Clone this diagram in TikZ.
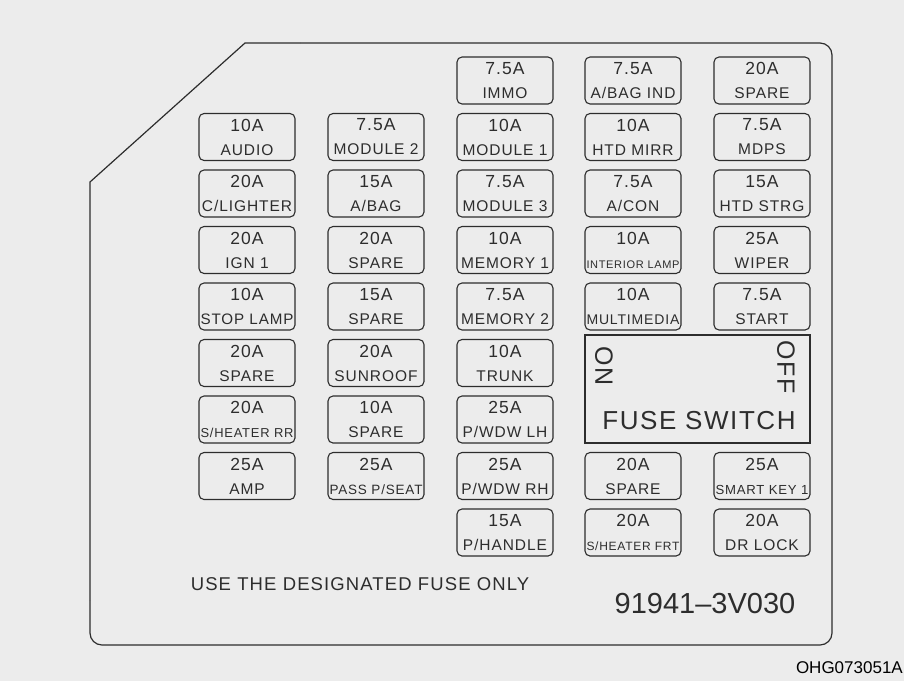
\documentclass[tikz,border=0pt]{standalone}
\usepackage{graphicx}
\usepackage{fontspec}
\setmainfont{Liberation Sans}
\newfontfamily\fusefont[LetterSpace=6]{Liberation Sans}
\usetikzlibrary{positioning}
\definecolor{panelbg}{RGB}{236,236,236}
\definecolor{ink}{RGB}{45,45,45}
\newsavebox\lblbox
\newcommand{\fitlabel}[1]{\sbox\lblbox{#1}\ifdim\wd\lblbox>93pt\relax\resizebox{93pt}{!}{#1}\else\usebox\lblbox\fi}
\tikzset{
  panel/.style={draw=ink, line width=1.2pt},
  fuse/.style={draw=ink, line width=1.1pt, rounded corners=5pt, minimum width=96pt, minimum height=47pt,
    inner sep=0pt, align=center, text=ink, font=\fusefont\fontsize{15.5}{24}\selectfont}
}
\newcommand{\ampsize}{\fontsize{17.5}{24}\selectfont}
\begin{document}
\begin{tikzpicture}[x=1pt,y=-1pt]
\fill[panelbg] (0,0) rectangle (904,681);
\useasboundingbox (0,0) rectangle (904,681);
% Panel outline, chamfered top left
\draw[panel] (90,600) -- (90,182) -- (245,43) -- (300,43);
\draw[panel, rounded corners=12pt] (300,43) -- (832,43) -- (832,645) -- (90,645) -- (90,600);
% Column 1
\foreach \r/\a/\l in {2/10A/AUDIO, 3/20A/{C/LIGHTER}, 4/20A/IGN 1, 5/10A/STOP LAMP,
    6/20A/SPARE, 7/20A/{S/HEATER RR}, 8/25A/AMP} {
  \node[fuse] (c1-\r) at (247,{24+56.5*\r}) {{\ampsize\a}\\\fitlabel{\l}};
}
% Column 2
\foreach \r/\a/\l in {2/7.5A/MODULE 2, 3/15A/{A/BAG}, 4/20A/SPARE, 5/15A/SPARE,
    6/20A/SUNROOF, 7/10A/SPARE, 8/25A/{PASS P/SEAT}} {
  \node[fuse] (c2-\r) at (376,{24+56.5*\r}) {{\ampsize\a}\\\fitlabel{\l}};
}
% Column 3
\foreach \r/\a/\l in {1/7.5A/IMMO, 2/10A/MODULE 1, 3/7.5A/MODULE 3, 4/10A/MEMORY 1,
    5/7.5A/MEMORY 2, 6/10A/TRUNK, 7/25A/{P/WDW LH}, 8/25A/{P/WDW RH}, 9/15A/{P/HANDLE}} {
  \node[fuse] (c3-\r) at (505,{24+56.5*\r}) {{\ampsize\a}\\\fitlabel{\l}};
}
% Column 4
\foreach \r/\a/\l in {1/7.5A/{A/BAG IND}, 2/10A/HTD MIRR, 3/7.5A/{A/CON}, 4/10A/INTERIOR LAMP,
    5/10A/MULTIMEDIA, 8/20A/SPARE, 9/20A/{S/HEATER FRT}} {
  \node[fuse] (c4-\r) at (633,{24+56.5*\r}) {{\ampsize\a}\\\fitlabel{\l}};
}
% Column 5
\foreach \r/\a/\l in {1/20A/SPARE, 2/7.5A/MDPS, 3/15A/HTD STRG, 4/25A/WIPER,
    5/7.5A/START, 8/25A/SMART KEY 1, 9/20A/DR LOCK} {
  \node[fuse] (c5-\r) at (762,{24+56.5*\r}) {{\ampsize\a}\\\fitlabel{\l}};
}
% Fuse switch
\node[draw=ink, line width=1.1pt, minimum width=225pt, minimum height=108pt, inner sep=0pt] (sw) at (697.5,389) {};
\node[rotate=-90, text=ink, font=\fusefont\fontsize{25}{25}\selectfont] (on) at (604,366) {ON};
\node[rotate=-90, text=ink, font=\fusefont\fontsize{25}{25}\selectfont] (off) at (786,367) {OFF};
\node[text=ink, font=\fusefont\fontsize{26}{28}\selectfont] (swtxt) at (699,421) {FUSE SWITCH};
% Bottom texts
\node[text=ink, font=\fusefont\fontsize{18.5}{20}\selectfont] (note) at (360,584) {USE THE DESIGNATED FUSE ONLY};
\node[text=ink, font=\fontsize{29}{30}\selectfont] (partno) at (705,604) {91941–3V030};
\node[anchor=east, text=black, font=\fontsize{17}{18}\selectfont, inner sep=0pt] (code) at (903,668) {OHG073051A};
\end{tikzpicture}
\end{document}
